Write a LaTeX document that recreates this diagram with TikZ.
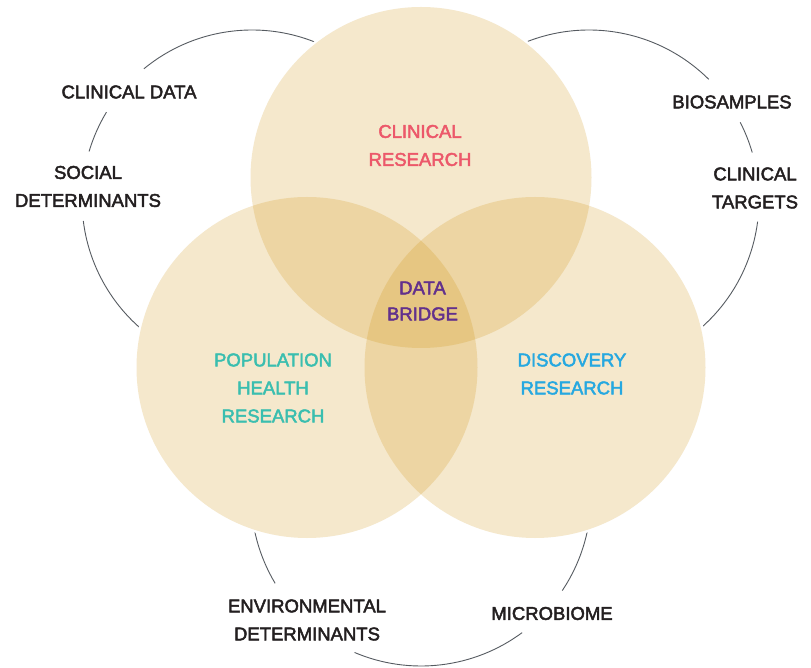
\documentclass[tikz,border=0pt]{standalone}
\usepackage{fontspec}
\setmainfont{Liberation Sans}
\font\medfontraw="Liberation Sans:embolden=2.5" at 18.5pt
\definecolor{venn}{RGB}{205,140,0}
\definecolor{arcgray}{RGB}{85,90,96}
\definecolor{labeltext}{RGB}{35,31,32}
\definecolor{redtext}{RGB}{236,88,106}
\definecolor{tealtext}{RGB}{58,190,175}
\definecolor{bluetext}{RGB}{38,168,224}
\definecolor{purpletext}{RGB}{98,48,140}
\begin{document}
\begin{tikzpicture}[x=1pt,y=1pt,
  outerarc/.style={draw=arcgray, line width=0.9pt},
  mask/.style={fill=white, draw=white, line width=5pt},
  vennset/.style={circle, minimum size=341pt, inner sep=0pt, fill=venn, fill opacity=0.2, draw=none},
  lbl/.style={font={\medfontraw\baselineskip=28pt}, text=labeltext, align=center, inner sep=0pt},
  setlbl/.style={lbl, text=#1}]
\useasboundingbox (0,0) rectangle (811,667);
% outer arcs
\draw[outerarc] (252,467) ++(60:170) arc[start angle=60, end angle=129.5, radius=170];
\draw[outerarc] (252,467) ++(148.9:170) arc[start angle=148.9, end angle=163.4, radius=170];
\draw[outerarc] (252,467) ++(187.1:170) arc[start angle=187.1, end angle=240, radius=170];
\draw[outerarc] (589,467) ++(45.2:170) arc[start angle=45.2, end angle=120, radius=170];
\draw[outerarc] (589,467) ++(16.2:170) arc[start angle=16.2, end angle=27.2, radius=170];
\draw[outerarc] (589,467) ++(-60:170) arc[start angle=-60, end angle=-7.3, radius=170];
\draw[outerarc] (421,171) ++(180:170) arc[start angle=180, end angle=210.9, radius=170];
\draw[outerarc] (421,171) ++(247:170) arc[start angle=247, end angle=306.5, radius=170];
\draw[outerarc] (421,171) ++(326.2:170) arc[start angle=326.2, end angle=360, radius=170];
% white masks
\fill[mask] (421,489.5) circle[radius=170.5];
\fill[mask] (307,299.5) circle[radius=170.5];
\fill[mask] (535,299.5) circle[radius=170.5];
% venn sets
\node[vennset] (clin) at (421,489.5) {};
\node[vennset] (pop) at (307,299.5) {};
\node[vennset] (disc) at (535,299.5) {};
% set labels
\node[setlbl=redtext] (clinlbl) at (420,521.5) {CLINICAL\\RESEARCH};
\node[setlbl=purpletext, font={\medfontraw\baselineskip=26pt}] (bridge) at (422.5,366) {DATA\\BRIDGE};
\node[setlbl=tealtext] (poplbl) at (273,279) {POPULATION\\HEALTH\\RESEARCH};
\node[setlbl=bluetext] (disclbl) at (572,293) {DISCOVERY\\RESEARCH};
% outer labels
\node[lbl] (cdata) at (129,575) {CLINICAL DATA};
\node[lbl] (social) at (88,480.5) {SOCIAL\\DETERMINANTS};
\node[lbl] (bio) at (732,565) {BIOSAMPLES};
\node[lbl] (targets) at (755,479) {CLINICAL\\TARGETS};
\node[lbl] (env) at (307,47) {ENVIRONMENTAL\\DETERMINANTS};
\node[lbl] (micro) at (552,53.5) {MICROBIOME};
\end{tikzpicture}
\end{document}
